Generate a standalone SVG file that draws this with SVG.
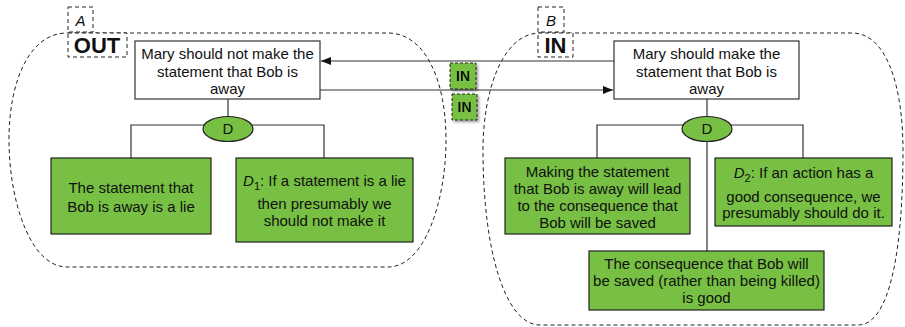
<svg xmlns="http://www.w3.org/2000/svg" width="905" height="327" viewBox="0 0 905 327">
  <defs>
    <style>
      text { font-family: "Liberation Sans", Arial, Helvetica, sans-serif; fill: #111; }
      .lbl { font-size: 15px; text-anchor: middle; }
      .box { fill: #fff; stroke: #333; stroke-width: 1.2; }
      .green { fill: #77c043; stroke: #222; stroke-width: 1.2; }
      .region { fill: none; stroke: #222; stroke-width: 1; stroke-dasharray: 4 3; }
      .tag { fill: #fff; stroke: #222; stroke-width: 1; stroke-dasharray: 4 3; }
      .badge { fill: #77c043; stroke: #222; stroke-width: 1; stroke-dasharray: 3 2; }
      .wire { fill: none; stroke: #333; stroke-width: 1.2; }
      .big { font-size: 22px; font-weight: bold; }
    </style>
    <marker id="arrow" viewBox="0 0 10 10" refX="10" refY="5" markerWidth="10" markerHeight="10" markerUnits="userSpaceOnUse" orient="auto">
      <path d="M0,1 L10,5 L0,9 Z" fill="#111"/>
    </marker>
    <filter id="shadow" x="-20%" y="-20%" width="150%" height="150%">
      <feDropShadow dx="2" dy="2" stdDeviation="1" flood-color="#000" flood-opacity="0.35"/>
    </filter>
  </defs>

  <!-- region outlines -->
  <g id="regionA">
    <path class="region" d="M67,33 H388 C425,33 446,80 446,140 C446,200 425,267 388,267 H67 C30,267 9,200 9,140 C9,80 30,33 67,33 Z"/>
    <rect class="tag" x="68" y="7" width="25" height="25"/>
    <text x="80.5" y="26" font-size="15" font-style="italic" text-anchor="middle">A</text>
    <rect class="tag" x="68" y="33" width="59" height="24"/>
    <text class="big" x="97" y="53" text-anchor="middle">OUT</text>
  </g>
  <g id="regionB">
    <path class="region" d="M540,33 H852 C888,33 903,90 903,150 C903,250 890,325 858,325 H540 C505,325 483,250 483,150 C483,90 503,33 540,33 Z"/>
    <rect class="tag" x="538" y="7" width="26" height="25"/>
    <text x="551" y="26" font-size="15" font-style="italic" text-anchor="middle">B</text>
    <rect class="tag" x="538" y="33" width="35" height="24"/>
    <text class="big" x="555.5" y="53" text-anchor="middle">IN</text>
  </g>

  <!-- connectors -->
  <g id="connectors">
    <line class="wire" x1="614" y1="61" x2="321" y2="61" marker-end="url(#arrow)"/>
    <line class="wire" x1="320" y1="90" x2="613" y2="90" marker-end="url(#arrow)"/>
    <path class="wire" d="M228,99 V117 M131,158 V125 H324 V158"/>
    <path class="wire" d="M707,99 V117 M597,158 V125 H803 V158 M707,141 V251"/>
  </g>

  <!-- IN badges on the arrows -->
  <g id="badge1" filter="url(#shadow)">
    <rect class="badge" x="450" y="63" width="26" height="26"/>
    <text x="463" y="81" font-size="14" font-weight="bold" text-anchor="middle">IN</text>
  </g>
  <g id="badge2" filter="url(#shadow)">
    <rect class="badge" x="452" y="94" width="25" height="26"/>
    <text x="464.5" y="112" font-size="14" font-weight="bold" text-anchor="middle">IN</text>
  </g>

  <!-- left argument -->
  <g id="claimA">
    <rect class="box" x="135" y="41" width="185" height="58"/>
    <text class="lbl" x="227.5" y="59">Mary should not make the</text>
    <text class="lbl" x="227.5" y="77">statement that Bob is</text>
    <text class="lbl" x="227.5" y="94">away</text>
  </g>
  <g id="defaultA">
    <ellipse class="green" cx="228" cy="129" rx="25" ry="12.5"/>
    <text class="lbl" x="228" y="134">D</text>
  </g>
  <g id="premiseA1">
    <rect class="green" x="51" y="158" width="160" height="76"/>
    <text class="lbl" x="131" y="193">The statement that</text>
    <text class="lbl" x="131" y="212">Bob is away is a lie</text>
  </g>
  <g id="premiseA2">
    <rect class="green" x="236" y="158" width="177" height="84"/>
    <text class="lbl" x="324.5" y="186"><tspan font-style="italic">D</tspan><tspan font-size="11" dy="4">1</tspan><tspan dy="-4">: If a statement is a lie</tspan></text>
    <text class="lbl" x="324.5" y="209">then presumably we</text>
    <text class="lbl" x="324.5" y="226">should not make it</text>
  </g>

  <!-- right argument -->
  <g id="claimB">
    <rect class="box" x="614" y="41" width="185" height="58"/>
    <text class="lbl" x="706.5" y="59">Mary should make the</text>
    <text class="lbl" x="706.5" y="77">statement that Bob is</text>
    <text class="lbl" x="706.5" y="94">away</text>
  </g>
  <g id="defaultB">
    <ellipse class="green" cx="707" cy="129" rx="25" ry="12.5"/>
    <text class="lbl" x="707" y="134">D</text>
  </g>
  <g id="premiseB1">
    <rect class="green" x="505" y="158" width="185" height="76"/>
    <text class="lbl" x="597.5" y="177">Making the statement</text>
    <text class="lbl" x="597.5" y="194">that Bob is away will lead</text>
    <text class="lbl" x="597.5" y="211">to the consequence that</text>
    <text class="lbl" x="597.5" y="228">Bob will be saved</text>
  </g>
  <g id="premiseB2">
    <rect class="green" x="715" y="158" width="177" height="68"/>
    <text class="lbl" x="803.5" y="178"><tspan font-style="italic">D</tspan><tspan font-size="11" dy="4">2</tspan><tspan dy="-4">: If an action has a</tspan></text>
    <text class="lbl" x="803.5" y="202">good consequence, we</text>
    <text class="lbl" x="803.5" y="218">presumably should do it.</text>
  </g>
  <g id="premiseB3">
    <rect class="green" x="589" y="251" width="235" height="59"/>
    <text class="lbl" x="706.5" y="269">The consequence that Bob will</text>
    <text class="lbl" x="706.5" y="286">be saved (rather than being killed)</text>
    <text class="lbl" x="706.5" y="303">is good</text>
  </g>
</svg>
